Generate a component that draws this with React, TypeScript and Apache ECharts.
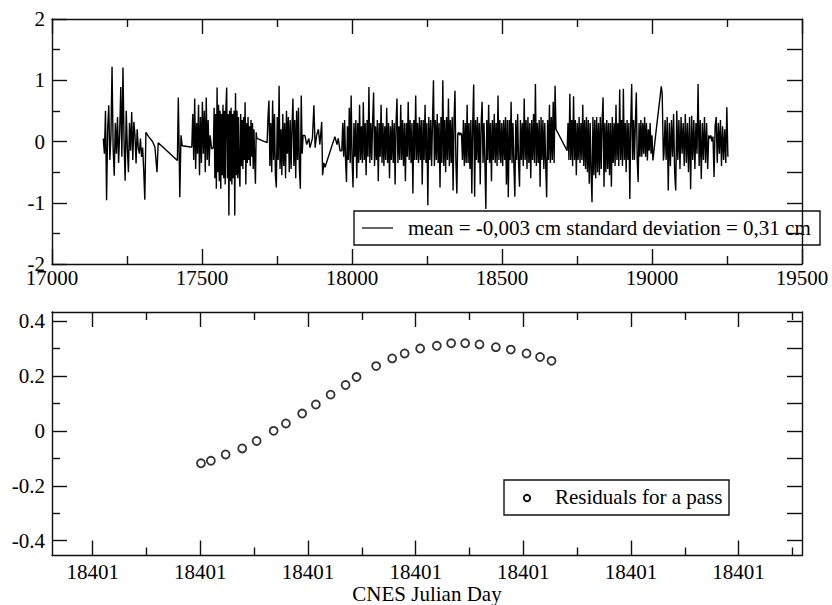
import React, { useEffect, useRef } from "react";
import * as echarts from "echarts";

// ---------- Top panel: residual time series (CNES Julian day, cm) ----------
const topXTicks = [17000, 17500, 18000, 18500, 19000, 19500];
const topXMinorTicks = [17250, 17750, 18250, 18750, 19250];
const topYTicks = [-2, -1, 0, 1, 2];
const topYMinorTicks = [-1.5, -0.5, 0.5, 1.5];
const topYRightTicks = [-1.5, -1, -0.5, 0, 0.5, 1, 1.5];

const burst1Range = [17171, 17313];
const burst1 = [0.05, -0.2, 0.5, -0.96, 0.2, 0.59, -0.3, 0.1, 1.22, -0.1, -0.56, 0.3, -0.2, 0.4, -0.35, 0.15, 0.89, -0.25, 1.21, 0.0,
  -0.64, 0.5, -0.1, -0.5, 0.3, -0.15, 0.48, -0.3, 0.32, 0.1, -0.36, 0.2, -0.1, -0.2, 0.05, -0.25, -0.1, -0.47, -0.95, 0.15];
const gapA = [[17322, 0.08], [17335, 0.0], [17343, -0.09], [17350, -0.5], [17354, -0.02], [17418, -0.31], [17421, 0.72], [17424, -0.2],
  [17426, -0.91], [17430, 0.1], [17434, -0.07], [17462, -0.09]];
const burst2Range = [17466, 17527];
const burst2 = [-0.09, 0.45, -0.3, 0.7, -0.45, 0.3, -0.2, 0.6, -0.55, 0.4, -0.35, 0.65, -0.2, 0.5, -0.5, 0.72, -0.3, 0.35, -0.4, 0.1];
const gapB = [[17532, -0.12]];
const burst3Range = [17538, 17683];
const burst3 = [-0.1, 0.55, -0.6, 0.45, -0.77, 0.88, -0.5, 0.6, -0.65, 0.5, -0.77, 0.45, -0.55, 0.6, -0.6, 0.5, -0.7, 0.55, 0.88, -0.6,
  0.45, -1.21, 0.5, -0.65, 0.55, -0.7, 0.45, -0.6, 0.5, -1.21, 0.79, -0.55, 0.5, -0.6, 0.4, -0.5, -0.74, 0.45, -0.4, 0.35,
  -0.45, 0.4, -0.3, 0.64, -0.7, 0.3, -0.35, 0.4, -0.3, 0.25, -0.4, 0.35, -0.25, 0.3, -0.45, 0.2, -0.3, -0.69, 0.15, 0.05];
const burst4Range = [17717, 17837];
const burst4 = [-0.02, 0.4, 0.67, -0.4, 0.3, -0.5, 0.67, -0.3, 0.45, -0.55, -0.75, 0.4, -0.3, 0.91, -0.45, 0.2, -0.55, 0.45, -0.4, 0.3,
  -0.6, 0.5, -0.2, 0.4, -0.5, 0.35, -0.45, 0.25, 0.7, -0.4, 0.35, -0.6, 0.5, -0.3, 0.55, -0.45, -0.77, 0.75, -0.2, 0.1];
const gapC = [[17843, 0.1], [17849, -0.05], [17856, 0.05], [17860, -0.1], [17868, 0.05], [17873, 0.59], [17877, -0.1], [17882, 0.1],
  [17888, 0.2], [17893, -0.05], [17899, 0.32], [17902, -0.55], [17906, -0.35], [17910, -0.42], [17943, 0.08], [17950, -0.05],
  [17954, 0.05], [17960, -0.15]];
const burst5Range = [17966, 18680];
const burst5 = [
  -0.15, 0.3, -0.25, 0.35, -0.3, -0.66, 0.25, -0.3, 0.55, -0.35,
  0.75, -0.3, -0.75, 0.3, -0.25, 0.35, -0.6, 0.3, -0.35, 0.6,
  -0.3, 0.25, -0.35, 0.64, -0.3, 0.3, -0.55, 0.35, -0.25, 0.89,
  -0.35, 0.3, -0.3, 0.35, 0.8, -0.4, 0.25, -0.3, 0.35, -0.65,
  0.3, -0.25, 0.6, -0.35, 0.3, -0.4, 0.25, -0.3, 0.55, -0.35,
  0.3, -0.6, 0.25, -0.3, 0.35, -0.35, 0.3, -0.7, 0.3, 0.7,
  -0.35, 0.25, -0.3, 0.6, -0.3, 0.35, -0.4, 0.3, -0.65, 0.3,
  -0.25, 0.65, -0.3, 0.35, -0.35, 0.3, -0.85, 0.35, -0.3, 0.75,
  -0.3, 0.3, -0.35, 0.4, -0.3, 0.35, -0.7, 0.35, -0.3, 0.6,
  -0.35, 0.3, -1.04, 0.4, -0.3, 0.35, -0.4, 0.35, 1.0, -0.4,
  0.35, -0.3, 0.45, -0.35, 0.3, -0.75, 0.4, -0.35, 1.0, -0.4,
  0.35, -0.5, 0.4, -0.3, 0.7, -0.4, 0.35, -0.35, 0.4, -0.8,
  0.35, 0.83, -0.35, -0.85, 0.12, 0.15, 0.1, 0.14, 0.12, -0.3,
  0.35, -0.4, 0.3, -0.35, 0.6, -0.35, 0.3, -0.45, 0.35, -0.85,
  0.3, 0.93, -0.9, 0.35, -0.3, 0.4, -0.35, 0.3, -0.7, 0.3,
  0.65, -0.35, 0.3, -0.35, -1.1, 0.35, -0.3, 0.6, -0.35, 0.3,
  -0.65, 0.35, -0.3, 0.45, -0.35, 0.3, -0.4, 0.75, -0.3, 0.35,
  -0.35, 0.3, -0.4, 0.35, -0.3, 0.4, -0.7, 0.35, -0.91, 0.35,
  -0.3, 0.65, -0.35, 0.3, -0.4, -0.9, 0.35, -0.3, 0.45, -0.35,
  -0.74, 0.35, -0.3, 0.3, -0.4, 0.7, -0.3, 0.35, -0.45, 0.4,
  -0.35, 0.3, -0.6, 0.35, -0.3, 0.45, -0.35, 0.94, -0.4, 0.3,
  -0.35, 0.35, -0.74, 0.4, -0.3, 0.35, -0.45, 0.3, -0.4, -0.91,
  0.35, -0.3, 0.6, -0.35, 0.4, -0.3, 0.65, -0.35, 0.91, 0.2];
const burst6Range = [18717, 19003];
const burst6 = [
  -0.15, 0.3, -0.3, 0.78, -0.3, 0.35, -0.4, 0.74, -0.3, 0.35,
  -0.55, 0.3, -0.3, 0.4, -0.35, 0.3, -0.3, 0.6, -0.4, 0.35,
  -0.45, 0.4, -0.5, 0.35, -0.69, 0.3, -0.5, -0.99, 0.4, -0.55,
  0.35, -0.6, 0.4, -0.5, 0.3, -0.55, 0.4, -0.45, 0.35, 0.72,
  -0.74, 0.3, -0.5, 0.35, -0.45, 0.3, -0.55, 0.3, -0.74, 0.4,
  -0.35, 0.3, -0.4, 0.6, -0.3, 0.3, -0.4, 0.85, -0.3, 0.35,
  -0.4, 0.86, -0.3, 0.3, -0.5, 0.35, -0.3, 0.3, -0.94, 0.3,
  0.94, -0.3, 0.35, -0.3, 0.3, 0.8, -0.3, -0.66, 0.3, -0.25,
  0.35, -0.25, 0.3, -0.2, 0.4, -0.25, 0.3, -0.31, 0.2, -0.15,
  0.3, -0.2, 0.1, -0.31];
const gapD = [[19012, 0.1], [19031, 0.9], [19034, 0.78], [19038, -0.31]];
const burst7Range = [19040, 19253];
const burst7 = [
  -0.2, 0.35, -0.3, 0.4, -0.8, 0.3, -0.4, 0.35, -0.25, 0.45,
  -0.5, -0.8, 0.5, -0.3, 0.35, -0.45, 0.4, -0.2, 0.3, -0.4,
  0.45, -0.35, 0.3, -0.5, 0.4, -0.78, 0.42, -0.3, 0.35, -0.45,
  0.3, -0.2, 0.94, -0.4, 0.35, -0.61, 0.3, -0.3, 0.4, -0.35,
  0.3, -0.45, 0.1, 0.05, 0.1, 0.0, 0.08, -0.58, 0.25, 0.4,
  -0.35, 0.3, -0.2, 0.35, -0.4, 0.25, -0.3, 0.2, -0.35, 0.56, -0.25];

const topLegendText = "mean = -0,003 cm standard deviation = 0,31 cm";

// ---------- Bottom panel: residuals for a single pass ----------
const bottomXTicks = [0, 10, 20, 30, 40, 50, 60];
const bottomXTickLabels = ["18401", "18401", "18401", "18401", "18401", "18401", "18401"];
const bottomXMinorTicks = [5, 15, 25, 35, 45, 55, 65];
const bottomYTicks = [-0.4, -0.2, 0, 0.2, 0.4];
const bottomYTickLabels = ["-0.4", "-0.2", "0", "0.2", "0.4"];
const bottomYMinorTicks = [-0.3, -0.1, 0.1, 0.3];
const bottomYRightTicks = [-0.4, -0.3, -0.2, -0.1, 0, 0.1, 0.2, 0.3, 0.4];
const passTime = [10.06, 10.98, 12.35, 13.89, 15.23, 16.81, 17.95, 19.46, 20.73, 22.1, 23.49, 24.51, 26.33,
  27.82, 28.98, 30.42, 31.97, 33.3, 34.6, 35.93, 37.45, 38.84, 40.3, 41.56, 42.62];
const passResidual = [-0.118, -0.109, -0.086, -0.064, -0.037, 0.0, 0.027, 0.063, 0.096, 0.132, 0.167, 0.196, 0.236,
  0.264, 0.282, 0.3, 0.31, 0.319, 0.319, 0.315, 0.305, 0.296, 0.282, 0.269, 0.255];
const bottomLegendText = "Residuals for a pass";
const bottomXName = "CNES Julian Day";

const FONT = "Liberation Serif";
const INK = "#111";

function spread(range: number[], values: number[]) {
  const [a, b] = range;
  return values.map((v, i) => [a + ((b - a) * i) / (values.length - 1), v]);
}

const topSeriesData = [
  ...spread(burst1Range, burst1),
  ...gapA,
  ...spread(burst2Range, burst2),
  ...gapB,
  ...spread(burst3Range, burst3),
  ...spread(burst4Range, burst4),
  ...gapC,
  ...spread(burst5Range, burst5),
  ...spread(burst6Range, burst6),
  ...gapD,
  ...spread(burst7Range, burst7),
];

export default function App() {
  const ref = useRef<HTMLDivElement>(null);
  useEffect(() => {
    if (!ref.current) return;
    const chart = echarts.init(ref.current, undefined, { renderer: "svg" });

    const xAxes: any[] = [];
    const yAxes: any[] = [];
    const lineStyle = { color: INK, width: 1.4 };
    const labelStyle = { fontFamily: FONT, fontSize: 21, color: "#000" };

    function addAxis(
      list: any[], gridIndex: number, position: string, min: number, max: number,
      ticks: number[], len: number, showLine: boolean,
      labels?: { values: number[]; text: string[]; margin: number; lineHeight: number },
      extra: any = {}
    ) {
      list.push({
        type: "value", gridIndex, position, min, max,
        axisLine: { show: showLine, onZero: false, lineStyle },
        axisTick: { show: true, inside: true, length: len, customValues: ticks, lineStyle },
        minorTick: { show: false },
        splitLine: { show: false },
        axisLabel: labels
          ? {
              show: true, customValues: labels.values, margin: labels.margin, lineHeight: labels.lineHeight, ...labelStyle,
              formatter: (v: number) => {
                const i = labels.values.findIndex((t) => Math.abs(t - v) < 1e-9);
                return i >= 0 ? labels.text[i] : "";
              },
            }
          : { show: false },
        ...extra,
      });
      return list.length - 1;
    }

    // top grid (0)
    const tX = addAxis(xAxes, 0, "bottom", 17000, 19500, topXTicks, 15, true,
      { values: topXTicks, text: topXTicks.map(String), margin: 6, lineHeight: 16 });
    addAxis(xAxes, 0, "bottom", 17000, 19500, topXMinorTicks, 8, false);
    addAxis(xAxes, 0, "top", 17000, 19500, topXTicks, 15, true);
    addAxis(xAxes, 0, "top", 17000, 19500, topXMinorTicks, 8, false);
    const tY = addAxis(yAxes, 0, "left", -2, 2, topYTicks, 15, true,
      { values: topYTicks, text: topYTicks.map(String), margin: 7, lineHeight: 12 });
    addAxis(yAxes, 0, "left", -2, 2, topYMinorTicks, 8, false);
    addAxis(yAxes, 0, "right", -2, 2, topYRightTicks, 15, true);

    // bottom grid (1)
    const bxMin = -3.78, bxMax = 65.89, byMin = -0.454, byMax = 0.433;
    const bX = addAxis(xAxes, 1, "bottom", bxMin, bxMax, bottomXTicks, 15, true,
      { values: bottomXTicks, text: bottomXTickLabels, margin: 8, lineHeight: 16 },
      {
        name: bottomXName, nameLocation: "middle", nameGap: 30, nameMoveOverlap: false,
        nameTextStyle: { ...labelStyle, lineHeight: 16 },
      });
    addAxis(xAxes, 1, "bottom", bxMin, bxMax, bottomXMinorTicks, 8, false);
    addAxis(xAxes, 1, "top", bxMin, bxMax, bottomXTicks, 15, true);
    addAxis(xAxes, 1, "top", bxMin, bxMax, bottomXMinorTicks, 8, false);
    const bY = addAxis(yAxes, 1, "left", byMin, byMax, bottomYTicks, 15, true,
      { values: bottomYTicks, text: bottomYTickLabels, margin: 7, lineHeight: 12 });
    addAxis(yAxes, 1, "left", byMin, byMax, bottomYMinorTicks, 8, false);
    addAxis(yAxes, 1, "right", byMin, byMax, bottomYRightTicks, 15, true);

    chart.setOption({
      animation: false,
      backgroundColor: "#fff",
      grid: [
        { left: 52, top: 19, width: 750, height: 245, containLabel: false },
        { left: 52, top: 312, width: 750, height: 245, containLabel: false },
      ],
      xAxis: xAxes,
      yAxis: yAxes,
      series: [
        {
          type: "line",
          name: topLegendText,
          xAxisIndex: tX,
          yAxisIndex: tY,
          data: topSeriesData,
          showSymbol: false,
          symbol: "none",
          lineStyle: { color: "#000", width: 1.4 },
          silent: true,
        },
        {
          type: "scatter",
          name: bottomLegendText,
          xAxisIndex: bX,
          yAxisIndex: bY,
          data: passTime.map((t, i) => [t, passResidual[i]]),
          symbol: "circle",
          symbolSize: 8,
          itemStyle: { color: "#fff", borderColor: "#000", borderWidth: 1.8 },
          silent: true,
        },
      ],
      graphic: [
        {
          type: "group",
          children: [
            { type: "rect", shape: { x: 354, y: 211, width: 466, height: 34 }, style: { fill: "#fff", stroke: INK, lineWidth: 1.4 } },
            { type: "line", shape: { x1: 362, y1: 228, x2: 393, y2: 228 }, style: { stroke: "#000", lineWidth: 1.2 } },
            {
              type: "text", x: 408, y: 228,
              style: { text: topLegendText, fontFamily: FONT, fontSize: 21, fill: "#000", verticalAlign: "middle", align: "left" },
            },
          ],
        },
        {
          type: "group",
          children: [
            { type: "rect", shape: { x: 504, y: 480, width: 225, height: 35 }, style: { fill: "#fff", stroke: INK, lineWidth: 1.4 } },
            { type: "circle", shape: { cx: 527, cy: 498, r: 3.2 }, style: { fill: "#fff", stroke: "#000", lineWidth: 1.8 } },
            {
              type: "text", x: 555, y: 497,
              style: { text: bottomLegendText, fontFamily: FONT, fontSize: 21, fill: "#000", verticalAlign: "middle", align: "left" },
            },
          ],
        },
      ],
    });
    return () => chart.dispose();
  }, []);
  return <div ref={ref} style={{ position: "absolute", left: 0, top: 0, width: 832, height: 605, background: "#fff" }} />;
}
